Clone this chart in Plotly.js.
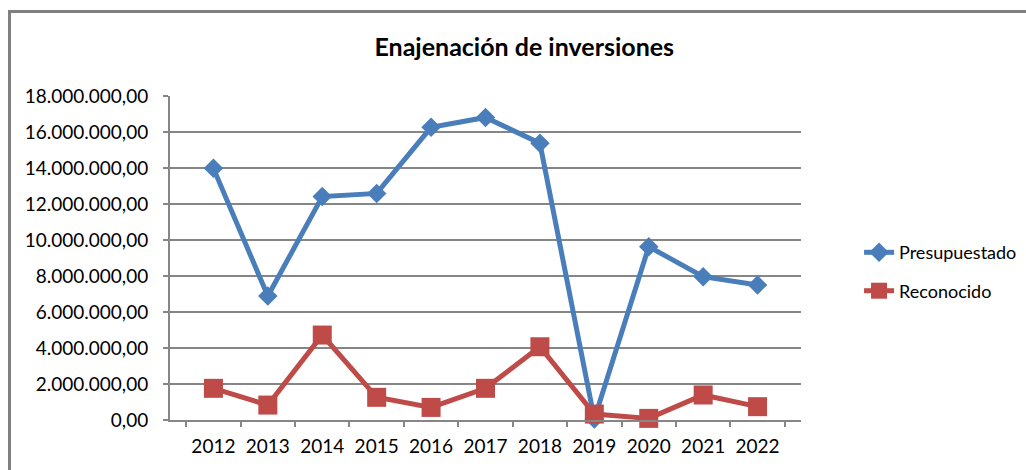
<!DOCTYPE html>
<html>
<head>
<meta charset="utf-8">
<script src="https://cdn.plot.ly/plotly-3.0.1.min.js"></script>
<style>
  html, body { margin: 0; padding: 0; background: #fff; }
  #frame { position: absolute; left: 8px; top: 10px; width: 1030px; height: 480px;
           border-left: 3px solid #808080; border-top: 3px solid #808080; pointer-events: none; }
  #chart { position: absolute; left: 0; top: 0; width: 1026px; height: 470px; }
</style>
</head>
<body>
<div id="chart"></div>
<div id="frame"></div>
<script>
// years on the category axis
const years = ['2012', '2013', '2014', '2015', '2016', '2017', '2018', '2019', '2020', '2021', '2022'];
// values
const presupuestado = [13980000, 6890000, 12410000, 12590000, 16260000, 16810000, 15370000, 60000, 9630000, 7960000, 7500000];
const reconocido = [1760000, 830000, 4720000, 1260000, 700000, 1760000, 4070000, 330000, 90000, 1390000, 740000];

const font = 'Lato, "Open Sans", sans-serif';

var trace1 = {
  x: years,
  y: presupuestado,
  name: 'Presupuestado',
  legendgroup: 'a',
  mode: 'lines+markers',
  type: 'scatter',
  cliponaxis: false,
  line: { color: '#4a7ebb', width: 5 },
  marker: { symbol: 'diamond', size: 15, color: '#4a7ebb' }
};
var trace2 = {
  x: years,
  y: reconocido,
  name: 'Reconocido',
  legendgroup: 'b',
  mode: 'lines+markers',
  type: 'scatter',
  cliponaxis: false,
  line: { color: '#be4b48', width: 5 },
  marker: { symbol: 'square', size: 19, color: '#be4b48' }
};

var layout = {
  width: 1026,
  height: 470,
  margin: { l: 170, r: 225, t: 96, b: 50, autoexpand: false },
  paper_bgcolor: 'rgba(0,0,0,0)',
  plot_bgcolor: '#fff',
  separators: ',.',
  font: { family: font, size: 19, color: '#000' },
  title: {
    text: '<b>Enajenación de inversiones</b>',
    font: { family: font, size: 25, color: '#000' },
    xref: 'container', x: 0.511, xanchor: 'center',
    yref: 'container', y: 0.90, yanchor: 'middle'
  },
  xaxis: {
    type: 'category',
    tickson: 'boundaries',
    ticks: 'outside',
    ticklen: 5,
    tickwidth: 2,
    tickcolor: '#868686',
    showgrid: false,
    showline: true,
    linecolor: '#868686',
    linewidth: 2,
    ticklabelstandoff: 8,
    tickfont: { family: font, size: 19, color: '#000' }
  },
  yaxis: {
    range: [0, 18000000],
    dtick: 2000000,
    tickformat: ',.2f',
    ticks: 'outside',
    ticklen: 5,
    tickwidth: 2,
    tickcolor: '#868686',
    showgrid: true,
    gridcolor: '#868686',
    gridwidth: 1.5,
    zeroline: false,
    showline: true,
    linecolor: '#868686',
    linewidth: 2,
    ticklabelstandoff: 11,
    tickfont: { family: font, size: 19, color: '#000' }
  },
  showlegend: true,
  legend: {
    x: 1.092, xanchor: 'left',
    y: 0.458, yanchor: 'middle',
    tracegroupgap: 12,
    bgcolor: 'rgba(0,0,0,0)',
    font: { family: font, size: 18, color: '#000' }
  }
};

Plotly.newPlot('chart', [trace1, trace2], layout, { staticPlot: true });
</script>
</body>
</html>
